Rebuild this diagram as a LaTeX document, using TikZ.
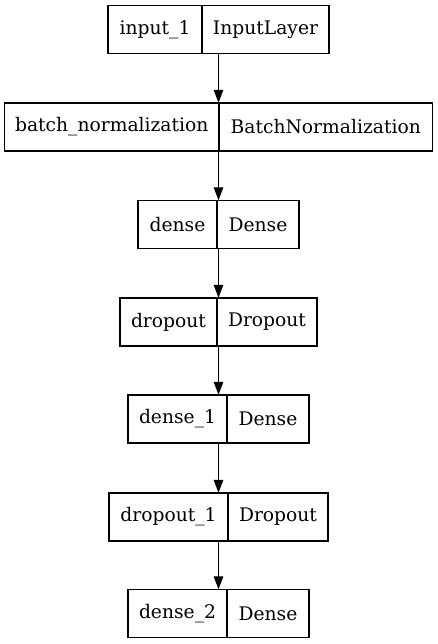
\documentclass[tikz,border=0pt]{standalone}
\usepackage{fontspec}
\setmainfont{DejaVu Serif}
\usetikzlibrary{positioning,fit,arrows.meta}
\begin{document}
\begin{tikzpicture}[x=1pt,y=-1pt,
field/.style={draw=black,line width=1.33pt,minimum height=48pt,inner sep=0pt,
outer sep=0pt,font=\fontsize{18.7}{22}\selectfont},
layer/.style={inner sep=0pt},
flow/.style={line width=1.33pt,-{Triangle[length=13pt,width=9.5pt]}}]
\useasboundingbox (0,0) rectangle (437,644);
\node[field,minimum width=94pt,anchor=west] (in1n) at (108,29.5) {input\_1};
\node[field,minimum width=127pt,right=0pt of in1n] (in1t) {InputLayer};
\node[field,minimum width=214.5pt,anchor=west] (bnn) at (4.5,127) {batch\_normalization};
\node[field,minimum width=213.5pt,right=0pt of bnn] (bnt) {BatchNormalization};
\node[field,minimum width=79pt,anchor=west] (d0n) at (138,224.5) {dense};
\node[field,minimum width=82pt,right=0pt of d0n] (d0t) {Dense};
\node[field,minimum width=97pt,anchor=west] (do0n) at (120,322) {dropout};
\node[field,minimum width=100pt,right=0pt of do0n] (do0t) {Dropout};
\node[field,minimum width=99pt,anchor=west] (d1n) at (128,419) {dense\_1};
\node[field,minimum width=82pt,right=0pt of d1n] (d1t) {Dense};
\node[field,minimum width=119pt,anchor=west] (do1n) at (109,517) {dropout\_1};
\node[field,minimum width=100pt,right=0pt of do1n] (do1t) {Dropout};
\node[field,minimum width=99pt,anchor=west] (d2n) at (128,613.5) {dense\_2};
\node[field,minimum width=82pt,right=0pt of d2n] (d2t) {Dense};
% whole records
\node[layer,fit=(in1n)(in1t)] (input) {};
\node[layer,fit=(bnn)(bnt)] (batchnorm) {};
\node[layer,fit=(d0n)(d0t)] (dense) {};
\node[layer,fit=(do0n)(do0t)] (dropout) {};
\node[layer,fit=(d1n)(d1t)] (dense1) {};
\node[layer,fit=(do1n)(do1t)] (dropout1) {};
\node[layer,fit=(d2n)(d2t)] (dense2) {};
\draw[flow] (input)--(batchnorm);
\draw[flow] (batchnorm)--(dense);
\draw[flow] (dense)--(dropout);
\draw[flow] (dropout)--(dense1);
\draw[flow] (dense1)--(dropout1);
\draw[flow] (dropout1)--(dense2);
\end{tikzpicture}
\end{document}
